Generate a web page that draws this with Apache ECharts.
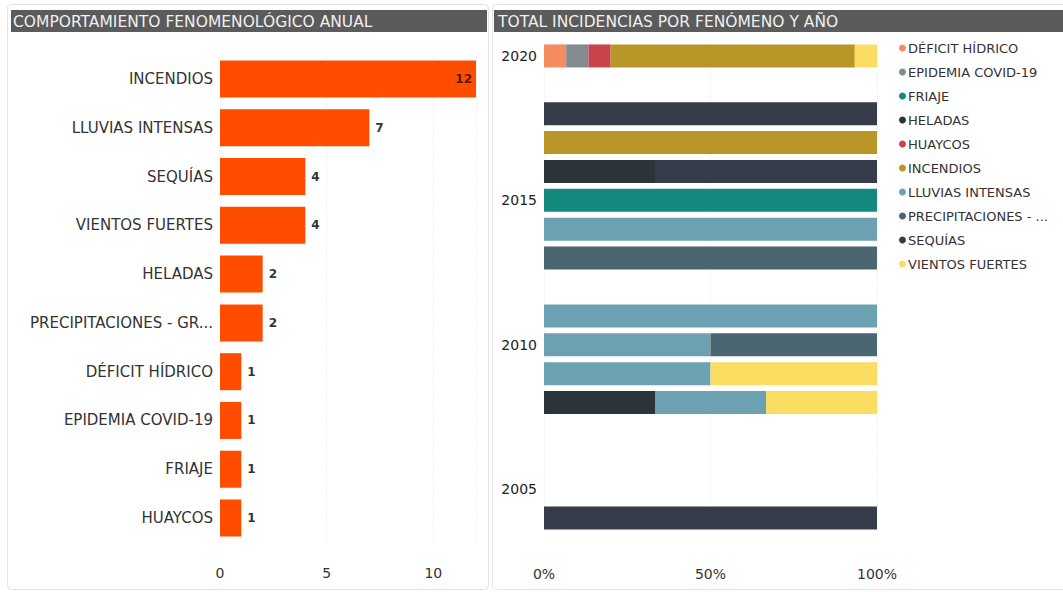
<!DOCTYPE html>
<html>
<head>
<meta charset="utf-8">
<script src="https://cdn.jsdelivr.net/npm/echarts@6/dist/echarts.min.js"></script>
<style>
html,body{margin:0;padding:0;background:#fff;}
#c{width:1063px;height:592px;}
</style>
</head>
<body>
<div id="c"></div>
<script>
// ---- Left chart data ----
const totalCategories = ['INCENDIOS','LLUVIAS INTENSAS','SEQUÍAS','VIENTOS FUERTES','HELADAS','PRECIPITACIONES - GR...','DÉFICIT HÍDRICO','EPIDEMIA COVID-19','FRIAJE','HUAYCOS'];
const totalValues = [12,7,4,4,2,2,1,1,1,1];
const totalTicks = [0,5,10];

// ---- Right chart data (counts per year) ----
const years = ['2004','2005','2006','2007','2008','2009','2010','2011','2012','2013','2014','2015','2016','2017','2018','2019','2020'];
const phenomena = ['DÉFICIT HÍDRICO','EPIDEMIA COVID-19','FRIAJE','HELADAS','HUAYCOS','INCENDIOS','LLUVIAS INTENSAS','PRECIPITACIONES - GR...','SEQUÍAS','VIENTOS FUERTES'];
//                      04 05 06 07 08 09 10 11 12 13 14 15 16 17 18 19 20
const deficitHidrico   = [0, 0, 0, 0, 0, 0, 0, 0, 0, 0, 0, 0, 0, 0, 0, 0, 1];
const epidemiaCovid    = [0, 0, 0, 0, 0, 0, 0, 0, 0, 0, 0, 0, 0, 0, 0, 0, 1];
const friaje           = [0, 0, 0, 0, 0, 0, 0, 0, 0, 0, 0, 1, 0, 0, 0, 0, 0];
const heladas          = [0, 0, 0, 0, 1, 0, 0, 0, 0, 0, 0, 0, 1, 0, 0, 0, 0];
const huaycos          = [0, 0, 0, 0, 0, 0, 0, 0, 0, 0, 0, 0, 0, 0, 0, 0, 1];
const incendios        = [0, 0, 0, 0, 0, 0, 0, 0, 0, 0, 0, 0, 0, 1, 0, 0, 11];
const lluviasIntensas  = [0, 0, 0, 0, 1, 2, 1, 2, 0, 0, 1, 0, 0, 0, 0, 0, 0];
const precipitaciones  = [0, 0, 0, 0, 0, 0, 1, 0, 0, 1, 0, 0, 0, 0, 0, 0, 0];
const sequias          = [1, 0, 0, 0, 0, 0, 0, 0, 0, 0, 0, 0, 2, 0, 1, 0, 0];
const vientosFuertes   = [0, 0, 0, 0, 1, 2, 0, 0, 0, 0, 0, 0, 0, 0, 0, 0, 1];
const percentTicks = [0,50,100];

const seriesCounts = [deficitHidrico, epidemiaCovid, friaje, heladas, huaycos, incendios, lluviasIntensas, precipitaciones, sequias, vientosFuertes];
const seriesColors = ['#F68B5F','#828B8E','#14897D','#2B3539','#C8444B','#B89628','#6CA1B2','#4B6671','#363C4A','#FBDD62'];

const FONT = '"DejaVu Sans", "Open Sans", sans-serif';

const yearTotals = years.map((y,i) => seriesCounts.reduce((s,a)=>s+a[i],0));
const maxTotal = Math.max(...totalValues);

const rightSeries = phenomena.map((name, k) => ({
  name: name,
  type: 'bar',
  stack: 'pct',
  xAxisIndex: 1,
  yAxisIndex: 1,
  barWidth: 23,
  itemStyle: {color: seriesColors[k]},
  emphasis: {disabled: true},
  data: seriesCounts[k].map((v,i) => v > 0 ? v / yearTotals[i] * 100 : '-')
}));

const chart = echarts.init(document.getElementById('c'), null, {renderer: 'svg'});
chart.setOption({
  animation: false,
  textStyle: {fontFamily: FONT},
  graphic: [
    {type:'rect', shape:{x:7.5, y:4.5, width:481, height:585, r:4}, style:{fill:'#fff', stroke:'#e3e3e3', lineWidth:1}, z:-10},
    {type:'rect', shape:{x:492.5, y:4.5, width:580, height:585, r:4}, style:{fill:'#fff', stroke:'#e3e3e3', lineWidth:1}, z:-10},
    {type:'rect', shape:{x:11, y:10, width:476, height:22}, style:{fill:'#5b5b5b'}, z:-5},
    {type:'rect', shape:{x:494, y:10, width:569, height:22}, style:{fill:'#5b5b5b'}, z:-5}
  ],
  title: [
    {text:'COMPORTAMIENTO FENOMENOLÓGICO ANUAL', left:13, top:11, padding:0,
     textStyle:{fontFamily:FONT, fontSize:15.5, fontWeight:'normal', color:'#f0f0f0', lineHeight:21}},
    {text:'TOTAL INCIDENCIAS POR FENÓMENO Y AÑO', left:498, top:11, padding:0,
     textStyle:{fontFamily:FONT, fontSize:15.5, fontWeight:'normal', color:'#f0f0f0', lineHeight:21}}
  ],
  legend: {
    orient: 'vertical',
    left: 899,
    top: 41,
    icon: 'circle',
    itemWidth: 7,
    itemHeight: 7,
    itemGap: 10,
    padding: 0,
    selectedMode: false,
    data: phenomena,
    formatter: n => n.indexOf('PRECIPITACIONES') === 0 ? 'PRECIPITACIONES - ...' : n,
    textStyle: {fontFamily: FONT, fontSize: 13, color: '#333', lineHeight: 14, padding: [0,0,0,-3]}
  },
  grid: [
    {left: 220, right: 587, top: 54.6, bottom: 49.6, containLabel: false},
    {left: 544, right: 186, top: 41.5, bottom: 59.5, containLabel: false}
  ],
  xAxis: [
    {type:'value', gridIndex:0, min:0, max:12, interval:5,
     axisLine:{show:false}, axisTick:{show:false},
     splitLine:{show:true, lineStyle:{color:'#f0f0f0', type:'dashed'}},
     axisLabel:{color:'#333', fontSize:14, margin:24, fontFamily:FONT,
       formatter: v => totalTicks.indexOf(v) >= 0 ? String(v) : ''}},
    {type:'value', gridIndex:1, min:0, max:100, interval:50,
     axisLine:{show:false}, axisTick:{show:false},
     splitLine:{show:true, lineStyle:{color:'#f3f3f3', type:'dashed'}},
     axisLabel:{color:'#333', fontSize:14, margin:34, fontFamily:FONT,
       formatter: v => percentTicks.indexOf(v) >= 0 ? v + '%' : ''}}
  ],
  yAxis: [
    {type:'category', gridIndex:0, data: totalCategories, inverse:true,
     axisLine:{show:false}, axisTick:{show:false},
     axisLabel:{color:'#333', fontSize:15, margin:7, fontFamily:FONT}},
    {type:'category', gridIndex:1, data: years, inverse:false,
     axisLine:{show:false}, axisTick:{show:false},
     axisLabel:{color:'#222', fontSize:14, margin:7, fontFamily:FONT,
       interval: (i, v) => Number(v) % 5 === 0}}
  ],
  series: [
    {
      name: 'TOTAL',
      type: 'bar',
      xAxisIndex: 0,
      yAxisIndex: 0,
      barWidth: 37,
      itemStyle: {color: '#FF4D00'},
      emphasis: {disabled: true},
      data: totalValues.map(v => ({
        value: v,
        label: v === maxTotal ? {position:'insideRight', distance:4, color:'#5a1a00'} : {position:'right', distance:6}
      })),
      label: {show:true, color:'#333', fontSize:12, fontWeight:'bold', fontFamily:FONT}
    }
  ].concat(rightSeries)
});
</script>
</body>
</html>
